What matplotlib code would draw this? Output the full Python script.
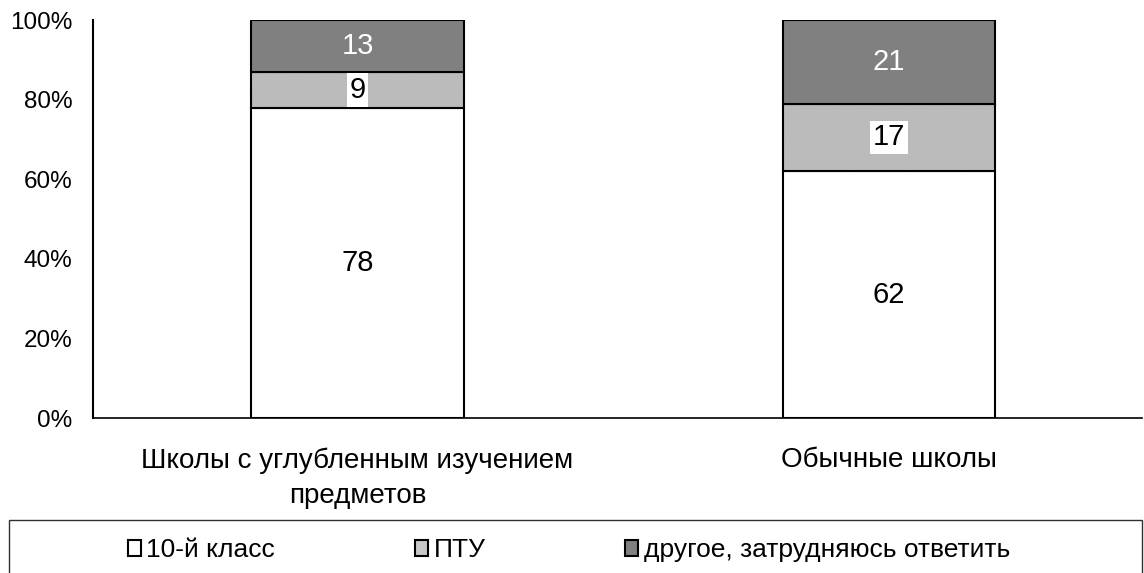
import matplotlib.pyplot as plt
from matplotlib.patches import Patch, Rectangle
import numpy as np

plt.rcParams['font.family'] = ['Liberation Sans', 'DejaVu Sans']
plt.rcParams['hatch.linewidth'] = 0.5

categories = ['Школы с углубленным изучением\nпредметов', 'Обычные школы']
grade10 = [78, 62]
ptu = [9, 17]
other = [13, 21]
series_names = ['10-й класс', 'ПТУ', 'другое, затрудняюсь ответить']

fig = plt.figure(figsize=(11.44, 5.73), dpi=100)
ax = fig.add_axes([0.0813, 0.2705, 0.917, 0.6945])

x = np.arange(len(categories))
w = 0.4
hatch_fine = '/' * 22
ax.bar(x, grade10, w, color='white', edgecolor='black', linewidth=1.5)
# hatched fill first, then black outline on top
ax.bar(x, ptu, w, bottom=grade10, color='#dcdcdc', edgecolor='#aaaaaa',
       linewidth=0, hatch=hatch_fine)
ax.bar(x, ptu, w, bottom=grade10, fill=False, edgecolor='black', linewidth=1.5)
b2 = np.array(grade10) + np.array(ptu)
ax.bar(x, other, w, bottom=b2, color='#808080', edgecolor='black', linewidth=1.5)

for i in range(len(x)):
    ax.text(x[i], grade10[i] / 2, str(grade10[i]), ha='center', va='center', fontsize=21)
    ax.text(x[i], grade10[i] + ptu[i] / 2, str(ptu[i]), ha='center', va='center', fontsize=21,
            bbox=dict(facecolor='white', edgecolor='none', pad=2))
    ax.text(x[i], b2[i] + other[i] / 2, str(other[i]), ha='center', va='center',
            fontsize=21, color='white')

ax.set_xlim(-0.4976, 1.476)
ax.set_ylim(0, 100)
ax.set_yticks(range(0, 101, 20))
ax.set_yticklabels([f'{v}%' for v in range(0, 101, 20)], fontsize=17.5)
ax.set_xticks(x)
ax.set_xticklabels(categories, fontsize=20, linespacing=1.45)
ax.tick_params(axis='y', length=0, pad=15)
ax.tick_params(axis='x', length=0, pad=21)
ax.spines['top'].set_visible(False)
ax.spines['right'].set_visible(False)
ax.spines['left'].set_linewidth(1.5)
ax.spines['bottom'].set_linewidth(1.2)

handles = [Patch(facecolor='white', edgecolor='black', linewidth=1.5),
           Patch(facecolor='#c8c8c8', edgecolor='black', linewidth=1.5),
           Patch(facecolor='#808080', edgecolor='black', linewidth=1.5)]
leg = fig.legend(handles, series_names, ncol=3, loc='center left',
                 bbox_to_anchor=(128 / 1144, 1 - 550 / 573), frameon=False,
                 fontsize=19, handlelength=0.5, handleheight=0.55, handletextpad=0.2,
                 columnspacing=5.3, borderaxespad=0, borderpad=0)

# legend frame running off the bottom edge
fig.patches.append(Rectangle((9 / 1144, -0.05), (1142 - 9) / 1144, 0.05 + 1 - 520 / 573,
                             transform=fig.transFigure, fill=False,
                             edgecolor='#303030', linewidth=1.0))

fig.savefig('out.png', dpi=100)
